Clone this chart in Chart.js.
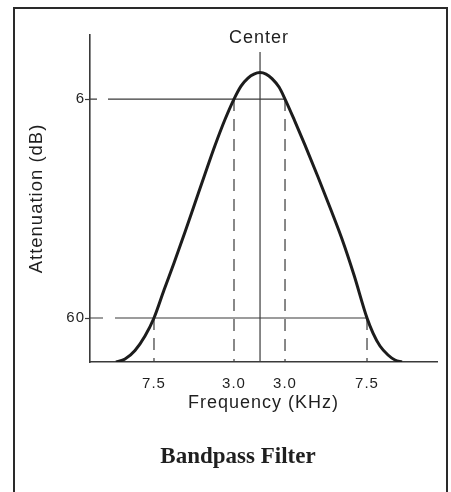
<!DOCTYPE html>
<html>
<head>
<meta charset="utf-8">
<script src="https://cdn.jsdelivr.net/npm/chart.js@4"></script>
<style>
  html, body { margin: 0; padding: 0; background: #ffffff; }
  #wrap { width: 451px; height: 492px; position: relative; }
</style>
</head>
<body>
<div id="wrap"><canvas id="c" width="451" height="492"></canvas></div>
<script>
// ---- data (x = relative position along the frequency axis, 0..100; y = attenuation in dB) ----
const curveX = [7.49, 10.09, 12.97, 15.85, 18.44, 21.33, 24.21, 27.38, 30.26, 33.14, 36.02, 38.9, 41.5,
                43.52, 45.53, 47.26, 48.99, 50.72, 52.45, 54.47, 56.2, 59.08, 61.96, 65.71, 69.45,
                72.62, 76.08, 79.83, 81.56, 83.57, 85.88, 87.9, 89.91];
const curveY = [70.85, 70.11, 68.01, 64.44, 60.0, 53.1, 46.44, 38.79, 31.64, 24.49, 17.47, 11.05, 6.0,
                2.79, 0.82, -0.16, -0.53, -0.16, 0.95, 3.04, 6.0, 11.55, 17.34, 25.23, 33.37,
                40.52, 49.4, 60.0, 63.7, 66.9, 69.12, 70.36, 70.85];
const xTickPositions = [18.44, 41.5, 56.2, 79.83];
const xTickLabels = ['7.5', '3.0', '3.0', '7.5'];
const dropLevels = [60, 6, 6, 60];          // level each dashed drop line starts from
const yTickValues = [6, 60];
const levelLineEnds = [56.2, 79.83];        // where the 6 dB and 60 dB lines end (right crossing)
const centerX = 49.0;
const centerTop = -5.6;
const yMin = -9.8, yMax = 70.85;
const xMin = 0, xMax = 100;

const textColor = '#1f1f1f';
const lineColor = '#3a3a3a';
const sans = 'Liberation Sans, Arial, Helvetica, sans-serif';

const curve = curveX.map((x, i) => ({ x: x, y: curveY[i] }));

const datasets = [{
  data: curve,
  borderColor: '#1c1c1c',
  borderWidth: 3,
  cubicInterpolationMode: 'monotone',
  pointRadius: 0
}, {
  data: [{ x: centerX, y: yMax }, { x: centerX, y: centerTop }],
  borderColor: lineColor, borderWidth: 1.2, pointRadius: 0
}];

const levelDash = [[7, 11, 2000], [13, 12, 2000]];
yTickValues.forEach((lv, i) => {
  datasets.push({
    data: [{ x: xMin, y: lv }, { x: levelLineEnds[i], y: lv }],
    borderColor: lineColor, borderWidth: 1.2, pointRadius: 0,
    borderDash: levelDash[i]
  });
});
xTickPositions.forEach((xp, i) => {
  datasets.push({
    data: [{ x: xp, y: dropLevels[i] }, { x: xp, y: yMax }],
    borderColor: lineColor, borderWidth: 1.2, pointRadius: 0,
    borderDash: [12, 8]
  });
});

const decor = {
  id: 'decor',
  beforeDraw(chart) {
    const ctx = chart.ctx;
    ctx.save();
    ctx.fillStyle = '#ffffff';
    ctx.fillRect(0, 0, chart.width, chart.height);
    ctx.strokeStyle = '#2a2a2a';
    ctx.lineWidth = 2;
    ctx.strokeRect(14, 8, 433, 520);
    ctx.restore();
    ctx.letterSpacing = '1px';
  },
  afterDraw(chart) {
    const ctx = chart.ctx;
    const xs = chart.scales.x, ys = chart.scales.y;
    ctx.save();
    ctx.fillStyle = textColor;
    ctx.textAlign = 'center';
    ctx.textBaseline = 'alphabetic';
    ctx.letterSpacing = '1px';
    ctx.font = '18px ' + sans;
    ctx.fillText('Center', xs.getPixelForValue(centerX) - 1, ys.getPixelForValue(centerTop) - 9);
    ctx.letterSpacing = '0px';
    ctx.font = 'bold 23px Liberation Serif, Times New Roman, serif';
    ctx.fillText('Bandpass Filter', 238, 463);
    ctx.restore();
  }
};

new Chart(document.getElementById('c'), {
  type: 'line',
  data: { datasets: datasets },
  plugins: [decor],
  options: {
    responsive: false,
    animation: false,
    events: [],
    layout: { padding: { left: 0, top: 35, right: 14, bottom: 0 } },
    plugins: { legend: { display: false }, tooltip: { enabled: false }, title: { display: false } },
    elements: { line: { tension: 0 } },
    scales: {
      x: {
        type: 'linear', min: xMin, max: xMax, position: 'bottom',
        grid: { display: false },
        border: { display: true, color: lineColor, width: 1.6 },
        afterBuildTicks: s => { s.ticks = xTickPositions.map(v => ({ value: v })); },
        afterFit: s => { s.height = 130; },
        ticks: {
          autoSkip: false, maxRotation: 0, padding: 5, color: textColor,
          font: { family: sans, size: 15 },
          callback: (v, i) => xTickLabels[i]
        },
        title: {
          display: true, text: 'Frequency (KHz)', color: textColor,
          font: { family: sans, size: 18 },
          padding: { top: 0, bottom: 78 }
        }
      },
      y: {
        type: 'linear', min: yMin, max: yMax, reverse: true,
        grid: { drawOnChartArea: false, drawTicks: true, tickLength: 5, tickColor: lineColor, tickWidth: 1.2 },
        border: { display: true, color: lineColor, width: 1.6 },
        afterBuildTicks: s => { s.ticks = yTickValues.map(v => ({ value: v })); },
        afterFit: s => { s.width = 90; },
        ticks: {
          autoSkip: false, padding: 0, color: textColor,
          font: { family: sans, size: 15 },
          callback: v => String(v)
        },
        title: {
          display: true, text: 'Attenuation (dB)', color: textColor,
          font: { family: sans, size: 18.5 },
          padding: { top: 26, bottom: 0 }
        }
      }
    }
  }
});
</script>
</body>
</html>
